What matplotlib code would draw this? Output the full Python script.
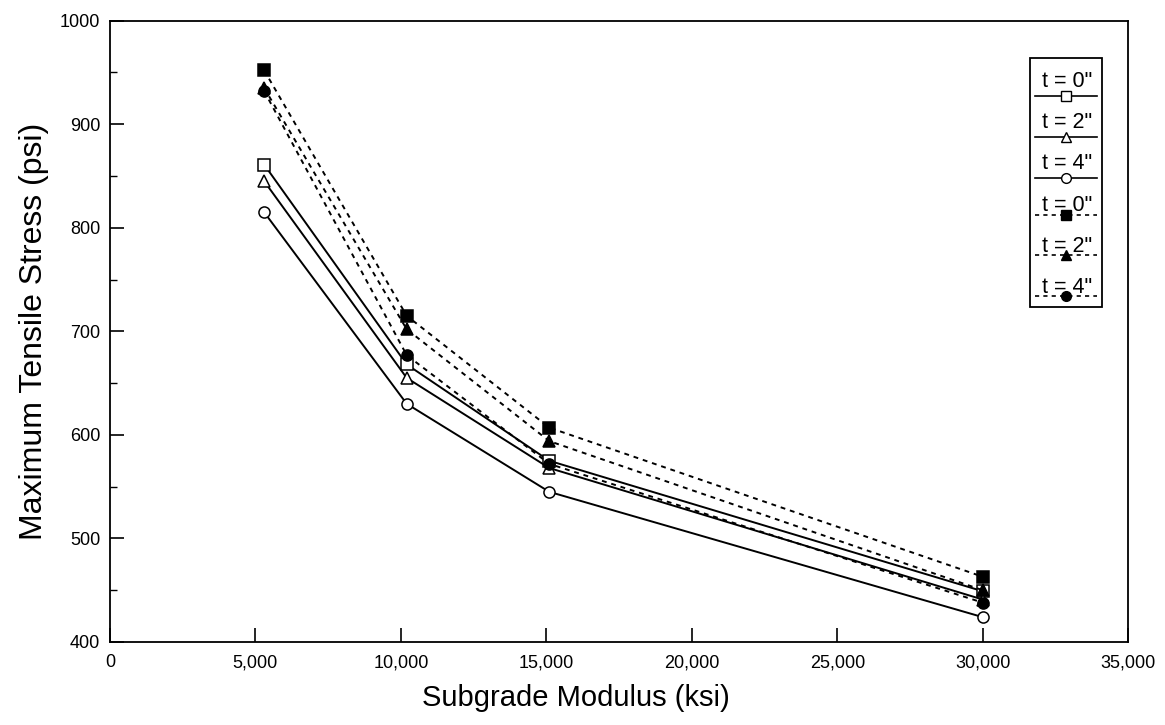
import matplotlib
matplotlib.use("Agg")
import matplotlib.pyplot as plt
from matplotlib.lines import Line2D
from matplotlib.patches import Rectangle
from matplotlib.ticker import FuncFormatter, MultipleLocator

plt.rcParams['font.family'] = ['Liberation Sans', 'DejaVu Sans']

modulus = [5300, 10200, 15100, 30000]
open_t0 = [861, 668, 575, 449]
open_t2 = [845, 655, 568, 441]
open_t4 = [815, 630, 545, 424]
fill_t0 = [952, 715, 607, 463]
fill_t2 = [935, 702, 594, 450]
fill_t4 = [932, 677, 572, 438]
labels = ['t = 0"', 't = 2"', 't = 4"', 't = 0"', 't = 2"', 't = 4"']

series = [
    (open_t0, 's', 'white', '-'),
    (open_t2, '^', 'white', '-'),
    (open_t4, 'o', 'white', '-'),
    (fill_t0, 's', 'black', (0, (2.5, 2.5))),
    (fill_t2, '^', 'black', (0, (2.5, 2.5))),
    (fill_t4, 'o', 'black', (0, (2.5, 2.5))),
]

fig = plt.figure(figsize=(11.65, 7.25), dpi=100)
ax = fig.add_axes([0.0944, 0.1145, 0.874, 0.857])

for vals, m, fc, ls in series:
    ax.plot(modulus, vals, color='black', linestyle=ls, linewidth=1.4,
            marker=m, markersize=8, markerfacecolor=fc,
            markeredgecolor='black', markeredgewidth=1.1)

ax.set_xlim(0, 35000)
ax.set_ylim(400, 1000)
ax.xaxis.set_major_locator(MultipleLocator(5000))
ax.yaxis.set_major_locator(MultipleLocator(100))
ax.yaxis.set_minor_locator(MultipleLocator(50))
ax.xaxis.set_major_formatter(FuncFormatter(lambda v, p: '0' if v == 0 else f'{int(v):,}'))
ax.tick_params(axis='both', which='major', direction='in', length=10, width=1.2,
               labelsize=13)
ax.tick_params(axis='x', which='major', pad=9)
ax.tick_params(axis='y', which='major', pad=7)
ax.tick_params(axis='y', which='minor', direction='in', length=5, width=1.0)
for s in ax.spines.values():
    s.set_linewidth(1.3)

ax.set_xlabel('Subgrade Modulus (ksi)', fontsize=21)
ax.set_ylabel('Maximum Tensile Stress (psi)', fontsize=23, labelpad=8)
ax.xaxis.set_label_coords(0.458, -0.068)

# custom legend: label above marker sample
def fx(px):
    return (px - 110) / 1018.0

def fy(py):
    return (642 - py) / 621.0

ax.add_patch(Rectangle((fx(1030), fy(307)), fx(1102) - fx(1030), fy(58) - fy(307),
                       transform=ax.transAxes, fill=True, facecolor='white',
                       edgecolor='black', linewidth=1.3, zorder=5))
text_y = [82, 123, 164, 206, 247, 288]
line_y = [96, 137, 178, 215, 255, 296]
for (vals, m, fc, ls), lab, ty, ly in zip(series, labels, text_y, line_y):
    ax.text(fx(1067), fy(ty), lab, transform=ax.transAxes, ha='center', va='center',
            fontsize=15.5, zorder=6)
    ax.add_line(Line2D([fx(1035), fx(1097)], [fy(ly), fy(ly)], transform=ax.transAxes,
                       color='black', linestyle=ls, linewidth=1.2, zorder=6))
    ax.add_line(Line2D([fx(1066)], [fy(ly)], transform=ax.transAxes, marker=m,
                       markersize=7, markerfacecolor=fc, markeredgecolor='black',
                       markeredgewidth=1.0, linestyle='none', zorder=7))

fig.savefig('out.png', dpi=100)
